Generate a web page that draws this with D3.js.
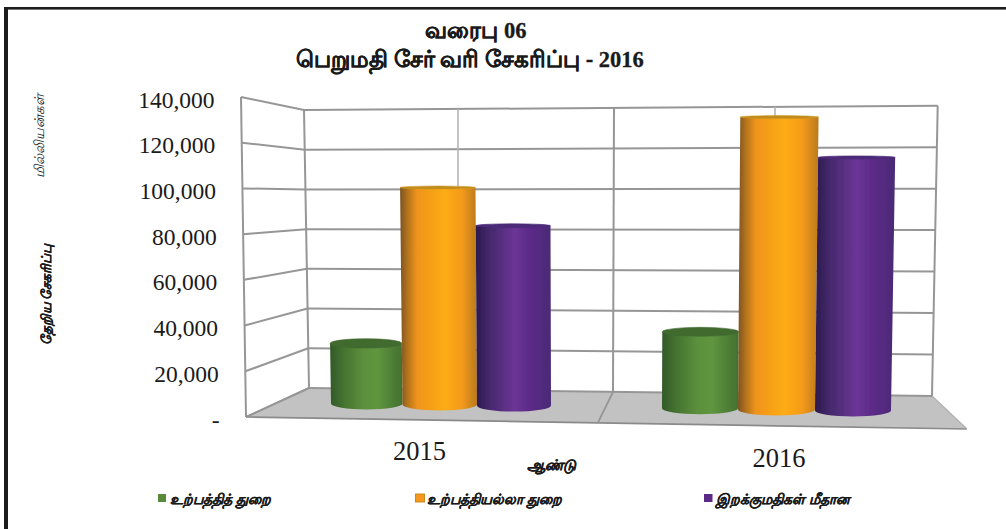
<!DOCTYPE html><html><head><meta charset="utf-8"><script src="https://cdnjs.cloudflare.com/ajax/libs/d3/7.8.5/d3.min.js"></script>
<style>html,body{margin:0;background:#fff}svg{display:block}text{font-family:"Liberation Serif",serif;fill:#1a1a1a}</style></head><body><script>
// ---- data ----
const years=['2015','2016'];
const seriesNames=['உற்பத்தித் துறை','உற்பத்தியல்லா துறை','இறக்குமதிகள் மீதான'];
const production=[28100,35200];
const nonProduction=[101100,134000];
const imports=[83500,115600];
const tickValues=[0,20000,40000,60000,80000,100000,120000,140000];
const titleLines=['வரைபு 06','பெறுமதி சேர் வரி சேகரிப்பு - 2016'];
const yTitleUnit='மில்லியன்கள்';
const yTitle='தேறிய சேகரிப்பு';
const xTitle='ஆண்டு';
const seriesValues=[production,nonProduction,imports];

// ---- layout ----
const svg=d3.select('body').append('svg').attr('width',1006).attr('height',529);
const defs=svg.append('defs');
const grads=[
 ['g0',[[0,'#33592a'],[.18,'#44722f'],[.45,'#5b8f3c'],[.65,'#5f963f'],[.85,'#4f8037'],[1,'#43702f']],'#3f6a2f','#3f6a2f'],
 ['g1',[[0,'#7d5320'],[.1,'#b4741f'],[.22,'#ef931b'],[.58,'#fdac15'],[.8,'#f59a1a'],[1,'#b97a20']],'#c08a1c','#cc9a22'],
 ['g2',[[0,'#2c1a4e'],[.2,'#472a6e'],[.52,'#6b3595'],[.72,'#5c2a88'],[1,'#4a2a75']],'#4c2a78','#4c2a78']
];
grads.forEach(([id,st])=>{
  const g=defs.append('linearGradient').attr('id',id);
  st.forEach(([o,c])=>g.append('stop').attr('offset',o).attr('stop-color',c));
});
const soft=defs.append('filter').attr('id','soft').attr('x','-5%').attr('y','-5%').attr('width','110%').attr('height','110%');
soft.append('feGaussianBlur').attr('stdDeviation',.45);

// page frame
svg.append('rect').attr('x',4).attr('y',7).attr('width',1002).attr('height',2.6).attr('fill','#1c1c1c');
svg.append('rect').attr('x',4).attr('y',7).attr('width',4).attr('height',522).attr('fill','#1c1c1c');

// projected scales: each edge of the 3-D box has its own linear value scale
const dom=[0,140000];
const frontY=d3.scaleLinear().domain(dom).range([417,97]);
const frontX=d3.scaleLinear().domain(dom).range([246,241]);
const backLY=d3.scaleLinear().domain(dom).range([388,110]);
const backLX=d3.scaleLinear().domain(dom).range([309,304]);
const backRY=d3.scaleLinear().domain(dom).range([396,105.7]);
const backRX=d3.scaleLinear().domain(dom).range([932,937.7]);
const backBottomX=d3.scaleLinear().domain([0,1,2,3,4]).range([309,458,613,774,932]);
const backTopX=d3.scaleLinear().domain([0,1,2,3,4]).range([304,458,614,775,937.7]);

const chart=svg.append('g').attr('filter','url(#soft)');
const gridColor='#969696';
// floor
chart.append('path').attr('d',d3.line()([[frontX(0),frontY(0)],[967,429],[backRX(0),backRY(0)],[backLX(0),backLY(0)]])+'Z').attr('fill','#c2c2c2');
chart.append('path').attr('d',d3.line()([[frontX(0),frontY(0)],[967,429]])).attr('stroke','#8a8a8a').attr('stroke-width',1.7);
chart.append('path').attr('d',d3.line()([[967,429],[backRX(0),backRY(0)]])).attr('stroke','#b0b0b0').attr('stroke-width',1.2);
chart.append('path').attr('d',d3.line()([[frontX(0),frontY(0)],[backLX(0),backLY(0)]])).attr('stroke',gridColor).attr('stroke-width',1.9);
chart.append('path').attr('d',d3.line()([[backBottomX(2),(backLY(0)+backRY(0))/2],[598,422.5]])).attr('stroke',gridColor).attr('stroke-width',1.7);

// walls
const ln=(a,b,w,c)=>chart.append('path').attr('d',d3.line()([a,b])).attr('stroke',c||gridColor).attr('stroke-width',w||2).attr('fill','none');
tickValues.forEach(v=>{
  ln([frontX(v),frontY(v)],[backLX(v),backLY(v)]);
  ln([backLX(v),backLY(v)],[backRX(v),backRY(v)]);
});
ln([frontX(0),frontY(0)],[frontX(140000),frontY(140000)]);
const backTopY=d3.scaleLinear().domain([304,937.7]).range([110,105.7]);
const backBotY=d3.scaleLinear().domain([309,932]).range([388,396]);
[0,1,2,3,4].forEach(i=>{
  const mid=i%2===1;
  ln([backTopX(i),backTopY(backTopX(i))],[backBottomX(i),backBotY(backBottomX(i))],mid?1.6:2,mid?'#b4b4b4':gridColor);
});

// cylinders
const slot=d3.scaleLinear().domain([0,1,2,3,4,5,6,7]).range([331,402.5,477,551,662,738,815,891]);
const baseY=d3.scaleLinear().domain([366,854]).range([403.5,410.5]);
const topY=v=>b=>b+(104-b)*v/140000;
const keystone=(x,h)=>x+(x-600)*0.017*(h/300);
const barData=seriesValues.flatMap((vals,s)=>vals.map((v,g)=>({v,g,s})));
barData.sort((a,b)=>a.g-b.g||a.s-b.s);
const bars=chart.selectAll('g.bar').data(barData).join('g').attr('class','bar');
bars.each(function(d){
  const l=slot(d.g*4+d.s), r=slot(d.g*4+d.s+1), c=(l+r)/2;
  const b=baseY(c), t=topY(d.v)(b), h=b-t;
  const tl=keystone(l,h), tr=keystone(r,h);
  const ry=Math.max(1.5,1+(t-186)*0.0235), rb=6;
  const [id,,cap,edge]=grads[d.s];
  const g=d3.select(this);
  g.append('path').attr('d',`M${tl},${t}L${l},${b}A${(r-l)/2},${rb} 0 0 0 ${r},${b}L${tr},${t}Z`).attr('fill',`url(#${id})`);
  g.append('ellipse').attr('cx',(tl+tr)/2).attr('cy',t).attr('rx',(tr-tl)/2).attr('ry',ry).attr('fill',cap).attr('stroke',edge).attr('stroke-width',.6);
});

// tick labels
const fmt=d3.format(',');
svg.selectAll('text.tick').data(tickValues).join('text').attr('class','tick')
  .attr('x',d=>frontX(d)-26.5).attr('y',d=>frontY(d)+10.5).attr('text-anchor','end').attr('font-size',23.5)
  .text(d=>d===0?'-':fmt(d));

// year labels
svg.selectAll('text.year').data(years).join('text').attr('class','year')
  .attr('x',(d,i)=>i?779:419.5).attr('y',(d,i)=>i?466.7:460).attr('text-anchor','middle').attr('font-size',26.5).text(d=>d);

// titles
svg.selectAll('text.title').data(titleLines).join('text').attr('class','title')
  .attr('x',(d,i)=>i?470:476).attr('y',(d,i)=>i?67:38).attr('text-anchor','middle').attr('font-size',22.5).attr('font-weight','bold')
  .attr('stroke','#1a1a1a').attr('stroke-width',.3).text(d=>d);

// axis titles
svg.append('text').attr('transform','translate(44,178) rotate(-90)').attr('font-size',13.5).attr('font-style','italic').text(yTitleUnit);
svg.append('text').attr('transform','translate(51,345) rotate(-90)').attr('font-size',13.4).attr('font-weight','bold').attr('font-style','italic').attr('stroke','#1a1a1a').attr('stroke-width',.2).text(yTitle);
svg.append('text').attr('x',527).attr('y',469.5).attr('font-size',14.5).attr('font-weight','bold').attr('font-style','italic').attr('stroke','#1a1a1a').attr('stroke-width',.25).text(xTitle);

// legend
const legendX=[158,415.5,704], legendW=[8,9,8.5], legendText=[170,427,716], legendColor=['#588a3a','#f5981c','#5b2a86'];
seriesNames.forEach((n,i)=>{
  svg.append('rect').attr('x',legendX[i]).attr('y',494).attr('width',legendW[i]).attr('height',8).attr('fill',legendColor[i]).attr('stroke',i===1?'#c98a20':'none').attr('stroke-width',1);
  svg.append('text').attr('x',legendText[i]).attr('y',504).attr('font-size',14).attr('font-weight','bold').attr('font-style','italic').attr('stroke','#1a1a1a').attr('stroke-width',.2).text(n);
});
</script></body></html>
